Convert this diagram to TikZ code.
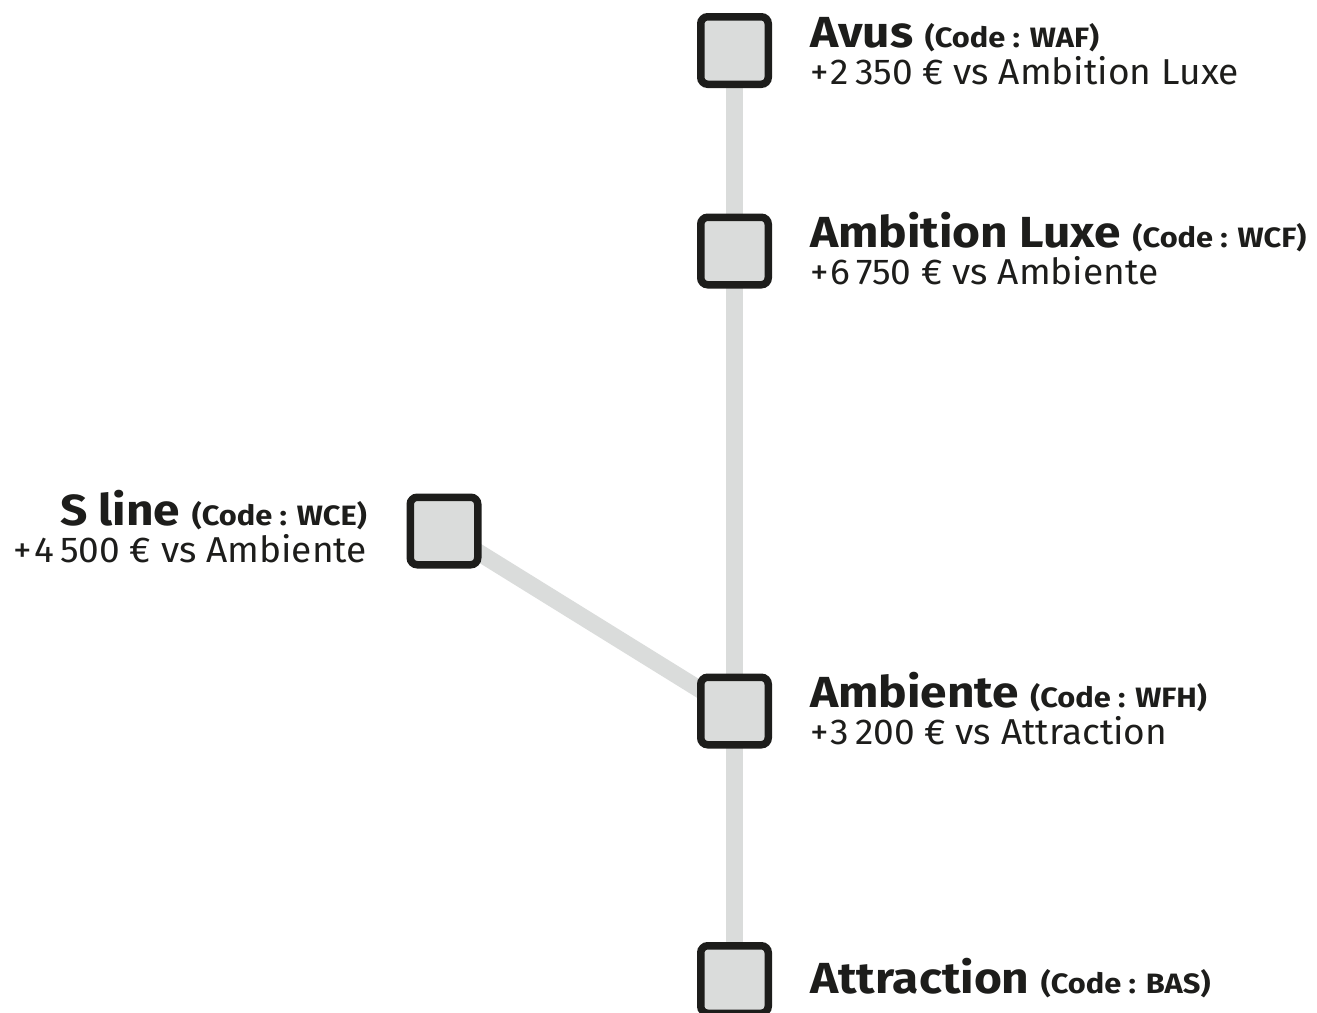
\documentclass[tikz,border=0pt]{standalone}
\usepackage{fontspec}
\setmainfont{Fira Sans}[FakeStretch=1.03, BoldFeatures={FakeStretch=1.1}]
\usetikzlibrary{backgrounds}
\definecolor{lgray}{HTML}{DADCDB}
\definecolor{ink}{HTML}{1D1D1B}
\newcommand{\codetxt}[1]{{\fontsize{28}{30}\selectfont\bfseries (Code : #1)}}
\newcommand{\plusn}{+\kern2pt}
\begin{document}
\begin{tikzpicture}[x=1pt,y=-1pt,
  trimbox/.style={shape=rectangle, draw=ink, fill=lgray, line width=7.5pt, rounded corners=7pt, minimum size=67.5pt, inner sep=0pt},
  link/.style={draw=lgray, line width=17pt},
  title/.style={font=\fontsize{43.5}{48}\selectfont\bfseries, inner sep=0pt, text=ink},
  sub/.style={font=\fontsize{36}{40}\selectfont, inner sep=0pt, text=ink}]
\useasboundingbox (0,0) rectangle (1317,1012);
\node[trimbox] (avus) at (734.5,50.5) {};
\node[trimbox] (ambl) at (734.5,251) {};
\node[trimbox] (sline) at (444,531) {};
\node[trimbox] (ambi) at (734.5,711) {};
\node[trimbox] (attr) at (734.5,979.5) {};
\begin{scope}[on background layer]
\draw[link] (avus.center) -- (ambl.center);
\draw[link] (ambl.center) -- (ambi.center);
\draw[link] (ambi.center) -- (attr.center);
\draw[link] (sline.center) -- (ambi.center);
\end{scope}
\node[title, anchor=base west] (avusT) at (810,47) {Avus \codetxt{WAF}};
\node[sub, anchor=base west] (avusS) at (810,84) {\plusn 2\thinspace 350 € vs Ambition Luxe};
\node[title, anchor=base west] (amblT) at (810,247) {Ambition Luxe \codetxt{WCF}};
\node[sub, anchor=base west] (amblS) at (810,284) {\plusn 6\thinspace 750 € vs Ambiente};
\node[title, anchor=base east] (slineT) at (367,525) {S line \codetxt{WCE}};
\node[sub, anchor=base east] (slineS) at (367,562) {\plusn 4\thinspace 500 € vs Ambiente};
\node[title, anchor=base west] (ambiT) at (810,707) {Ambiente \codetxt{WFH}};
\node[sub, anchor=base west] (ambiS) at (810,744) {\plusn 3\thinspace 200 € vs Attraction};
\node[title, anchor=base west] (attrT) at (810,993) {Attraction \codetxt{BAS}};
\end{tikzpicture}
\end{document}
